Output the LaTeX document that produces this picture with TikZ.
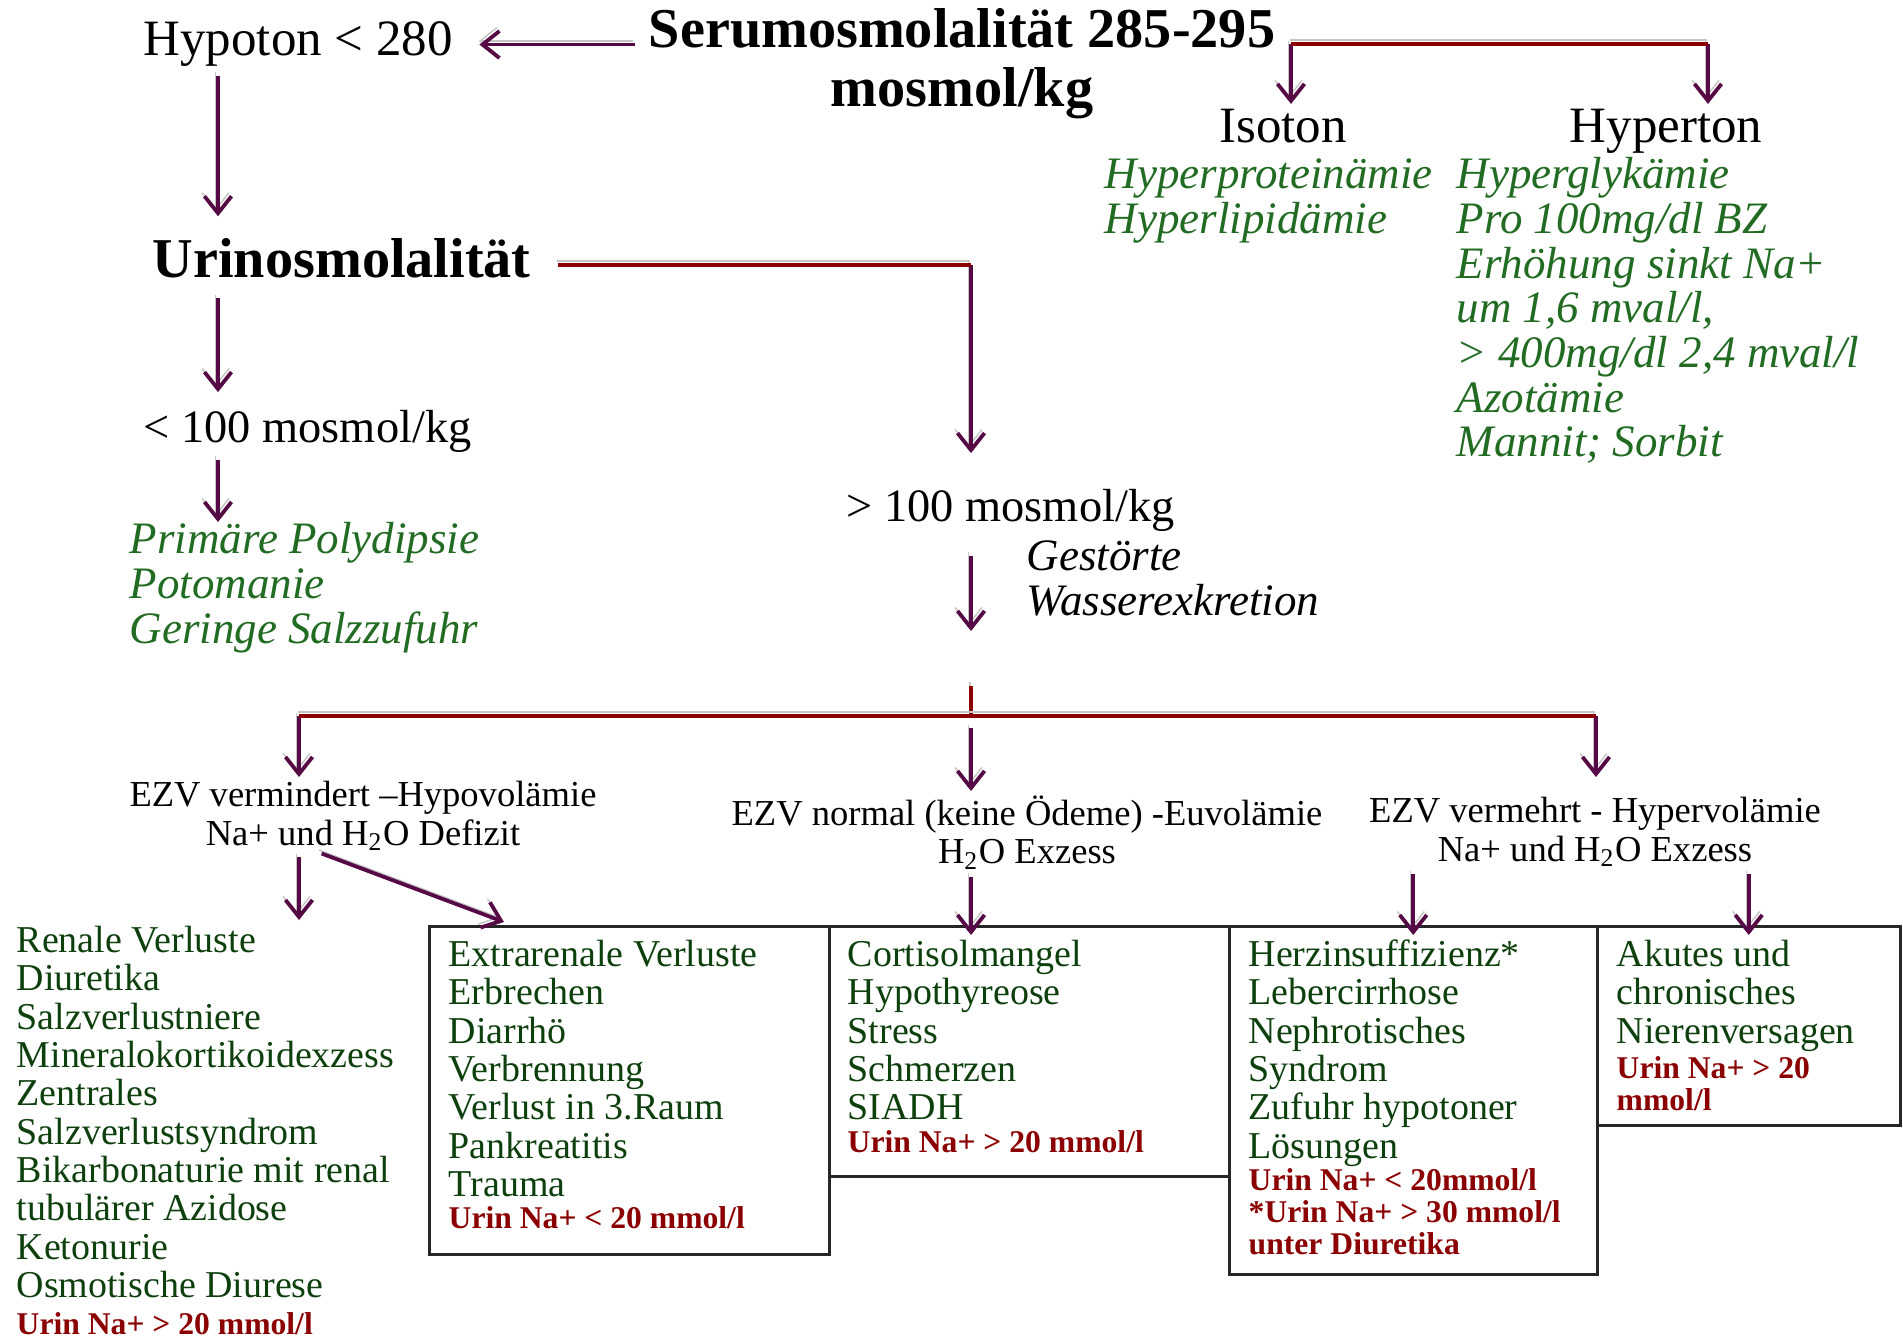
\documentclass[tikz,border=0pt]{standalone}
\usepackage{fontspec}
\setmainfont{Liberation Serif}
\usetikzlibrary{arrows.meta}

\definecolor{arrowpurple}{HTML}{550A46}
\definecolor{linered}{HTML}{8B0000}
\definecolor{shadowgrey}{HTML}{C4C4C4}
\definecolor{itgreen}{HTML}{226B22}
\definecolor{boxgreen}{HTML}{0E400E}
\definecolor{nared}{HTML}{8B0000}

\begin{document}
\begin{tikzpicture}[x=0.1mm, y=-0.1mm,
  arr/.style={draw=arrowpurple, line width=0.38mm, -{Straight Barb[length=1.7mm,width=2.7mm]},
    preaction={draw=shadowgrey, transform canvas={shift={(-0.25mm,0.35mm)}}}},
  redline/.style={draw=linered, line width=0.38mm,
    preaction={draw=shadowgrey, transform canvas={shift={(-0.1mm,0.42mm)}}}},
  box/.style={draw=black!85, line width=0.25mm, anchor=north west, inner sep=0pt},
  txt/.style={inner sep=0pt},
  big/.style={txt, font=\bfseries\fontsize{16}{15.6}\selectfont},
  head/.style={txt, font=\fontsize{14.5}{16}\selectfont},
  osm/.style={txt, font=\fontsize{13.2}{15}\selectfont},
  cause/.style={txt, align=left, anchor=north west, text=itgreen, font=\itshape\fontsize{12.8}{12.7}\selectfont},
  ezv/.style={txt, align=center, anchor=north, font=\fontsize{10.4}{11}\selectfont},
  item/.style={txt, align=left, anchor=north west, text=boxgreen, font=\fontsize{10.8}{10.9}\selectfont},
  nawert/.style={txt, align=left, anchor=north west, text=nared, font=\bfseries\fontsize{9}{9.1}\selectfont}]
  \useasboundingbox (0,0) rectangle (1903,1338);

  % Serum and the three branches
  \node[big, align=center, anchor=north] (serum) at (962,8) {\strut Serumosmolalität 285-295\\mosmol/kg};
  \node[head, anchor=base west] (hypo) at (143,56) {Hypoton < 280};
  \node[head, anchor=base] (isoton) at (1283,142) {Isoton};
  \node[head, anchor=base] (hyper) at (1666,142) {Hyperton};
  \node[cause] (isolist) at (1104,157) {\strut Hyperproteinämie\\Hyperlipidämie};
  \node[cause] (hyperlist) at (1456,157) {\strut Hyperglykämie\\Pro 100mg/dl BZ\\Erhöhung sinkt Na+\\um 1,6 mval/l,\\> 400mg/dl 2,4 mval/l\\Azotämie\\Mannit; Sorbit};

  \coordinate (iso) at (1291,44);
  \coordinate (hyp) at (1708,44);
  \draw[arr, shorten <=1.3mm, shorten >=2.6mm] (hypo.east -| serum.west) -- (hypo.east);
  \draw[arr, shorten >=0.4mm] (iso) -- (iso |- isoton.north);
  \draw[arr, shorten >=0.4mm] (hyp) -- (hyp |- hyper.north);
  \draw[redline] (iso) -- (hyp);

  % Urinosmolalitaet
  \node[big, anchor=base west] (urin) at (152,277) {Urinosmolalität};
  \node[osm, anchor=base west] (lowosm) at (143,442) {< 100 mosmol/kg};
  \node[cause] (poly) at (129,522) {\strut Primäre Polydipsie\\Potomanie\\Geringe Salzzufuhr};
  \node[osm, anchor=base west] (highosm) at (846,521) {> 100 mosmol/kg};
  \node[cause, text=black] (wasser) at (1026,539) {\strut Gestörte\\Wasserexkretion};

  \coordinate (colA) at (218,0);
  \coordinate (T) at (971,265);
  \draw[arr, shorten <=0.8mm, shorten >=2.1mm] (hypo.south -| colA) -- (urin.north -| colA);
  \draw[arr, shorten <=2mm, shorten >=1.7mm] (urin.south -| colA) -- (lowosm.north -| colA);
  \draw[arr, shorten <=0.7mm] (lowosm.south -| colA) -- (poly.north -| colA);
  \draw[arr, shorten >=3.5mm] (T) -- (T |- highosm.north);
  \draw[redline, shorten <=2.7mm] (urin.east |- T) -- (T);

  % Extrazellulaervolumen
  \node[ezv] (ezvl) at (363,779) {\strut EZV vermindert –Hypovolämie\\Na+ und H\textsubscript{2}O Defizit};
  \node[ezv] (ezvn) at (1027,795) {\strut EZV normal (keine Ödeme) -Euvolämie\\H\textsubscript{2}O Exzess};
  \node[ezv] (ezvp) at (1595,795) {\strut EZV vermehrt - Hypervolämie\\Na+ und H\textsubscript{2}O Exzess};

  \coordinate (J) at (971,716);
  \coordinate (L) at (299,716);
  \coordinate (R) at (1596,716);
  \draw[arr, shorten <=2.4mm, shorten >=8.5mm] (highosm.south -| J) -- (J);
  \draw[arr, shorten >=0.2mm] (L) -- (L |- ezvl.north);
  \draw[arr, shorten <=1.2mm, shorten >=0.4mm] (J) -- (J |- ezvn.north);
  \draw[arr, shorten >=1.8mm] (R) -- (R |- ezvp.north);
  \draw[redline] (J) -- ++(0,-30);
  \draw[redline] (L) -- (R);

  % Ursachen
  \node[item] (renal) at (16,925) {\strut Renale Verluste\\Diuretika\\Salzverlustniere\\Mineralokortikoidexzess\\Zentrales\\Salzverlustsyndrom\\Bikarbonaturie mit renal\\tubulärer Azidose\\Ketonurie\\Osmotische Diurese};
  \node[nawert, anchor=base west] (renalna) at (16,1334) {Urin Na+ > 20 mmol/l};

  \node[box, minimum width=40mm, minimum height=32.8mm] (b1) at (428,925) {};
  \node[box, minimum width=40mm, minimum height=25mm] (b2) at (828,925) {};
  \node[box, minimum width=36.8mm, minimum height=34.8mm] (b3) at (1228,925) {};
  \node[box, minimum width=30.3mm, minimum height=19.9mm] (b4) at (1596,925) {};

  \node[item] (extra) at (448,939) {\strut Extrarenale Verluste\\Erbrechen\\Diarrhö\\Verbrennung\\Verlust in 3.Raum\\Pankreatitis\\Trauma};
  \node[nawert, anchor=base west] (extrana) at (448,1228) {Urin Na+ < 20 mmol/l};
  \node[item] (siadh) at (847,939) {\strut Cortisolmangel\\Hypothyreose\\Stress\\Schmerzen\\SIADH};
  \node[nawert, anchor=base west] (siadhna) at (847,1152) {Urin Na+ > 20 mmol/l};
  \node[item] (herz) at (1248,939) {\strut Herzinsuffizienz*\\Lebercirrhose\\Nephrotisches\\Syndrom\\Zufuhr hypotoner\\Lösungen};
  \node[nawert] (herzna) at (1248,1167) {\strut Urin Na+ < 20mmol/l\\*Urin Na+ > 30 mmol/l\\unter Diuretika};
  \node[item] (niere) at (1616,939) {\strut Akutes und\\chronisches\\Nierenversagen};
  \node[nawert] (nierena) at (1616,1055) {\strut Urin Na+ > 20\\mmol/l};

  \draw[arr, shorten <=0.6mm, shorten >=0.5mm] (ezvl.south -| L) -- (renal.north -| L);
  \draw[arr, shorten <=0.6mm] ([xshift=-4.7mm]ezvl.south) -- ([xshift=7.6mm,yshift=0.3mm]b1.north west);
  \draw[arr, shorten <=0.7mm, shorten >=-1mm] (ezvn.south -| J) -- (b2.north -| J);
  \draw[arr, shorten <=0.7mm, shorten >=-1mm] (ezvp.south -| b3.north) -- (b3.north);
  \draw[arr, shorten <=0.7mm, shorten >=-1mm] (ezvp.south -| b4.north) -- (b4.north);
\end{tikzpicture}
\end{document}
